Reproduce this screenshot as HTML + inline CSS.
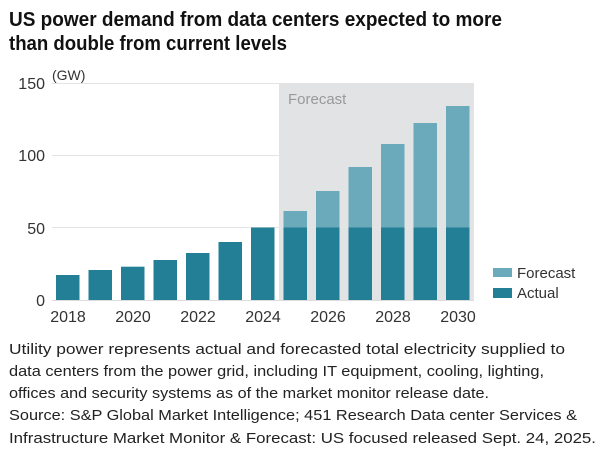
<!DOCTYPE html>
<html><head><meta charset="utf-8"><style>
html,body{margin:0;padding:0;background:#fff;}
svg{display:block;font-family:"Liberation Sans",sans-serif;}
</style></head><body>
<svg width="605" height="454" viewBox="0 0 605 454" xmlns="http://www.w3.org/2000/svg">
<text x="9" y="26" font-size="20" font-weight="bold" fill="#111" textLength="493" lengthAdjust="spacingAndGlyphs">US power demand from data centers expected to more</text>
<text x="9" y="50" font-size="20" font-weight="bold" fill="#111" textLength="278" lengthAdjust="spacingAndGlyphs">than double from current levels</text>

<rect x="279" y="83" width="195" height="217" fill="#e2e3e5"/>
<g stroke="#e4e4e4" stroke-width="1">
<line x1="52" y1="83.5" x2="474" y2="83.5"/>
<line x1="52" y1="155.5" x2="474" y2="155.5"/>
<line x1="52" y1="227.5" x2="474" y2="227.5"/>
</g>
<line x1="52" y1="300.5" x2="474" y2="300.5" stroke="#ddd"/>
<text x="288" y="104" font-size="15" fill="#999">Forecast</text>

<text x="52" y="80" font-size="14" fill="#333">(GW)</text>
<g font-size="16" fill="#333" text-anchor="end">
<text x="45" y="89">150</text>
<text x="45" y="161">100</text>
<text x="45" y="234">50</text>
<text x="45" y="306">0</text>
</g>

<g fill="#237f96">
<rect x="56" y="275" width="23.5" height="25"/>
<rect x="88.5" y="270" width="23.5" height="30"/>
<rect x="121" y="266.7" width="23.5" height="33.3"/>
<rect x="153.5" y="260" width="23.5" height="40"/>
<rect x="186" y="253" width="23.5" height="47"/>
<rect x="218.5" y="242" width="23.5" height="58"/>
<rect x="251" y="227.5" width="23.5" height="72.5"/>
<rect x="283.5" y="227.5" width="23.5" height="72.5"/>
<rect x="316" y="227.5" width="23.5" height="72.5"/>
<rect x="348.5" y="227.5" width="23.5" height="72.5"/>
<rect x="381" y="227.5" width="23.5" height="72.5"/>
<rect x="413.5" y="227.5" width="23.5" height="72.5"/>
<rect x="446" y="227.5" width="23.5" height="72.5"/>
</g>
<g fill="#6aaabb">
<rect x="283.5" y="211" width="23.5" height="16.5"/>
<rect x="316" y="191" width="23.5" height="36.5"/>
<rect x="348.5" y="167" width="23.5" height="60.5"/>
<rect x="381" y="144" width="23.5" height="83.5"/>
<rect x="413.5" y="123" width="23.5" height="104.5"/>
<rect x="446" y="106" width="23.5" height="121.5"/>
</g>

<g font-size="16" fill="#333" text-anchor="middle">
<text x="68" y="322">2018</text>
<text x="133" y="322">2020</text>
<text x="198" y="322">2022</text>
<text x="263" y="322">2024</text>
<text x="328" y="322">2026</text>
<text x="393" y="322">2028</text>
<text x="458" y="322">2030</text>
</g>

<rect x="493" y="268" width="19" height="9" fill="#6aaabb"/>
<rect x="493" y="288" width="19" height="10" fill="#237f96"/>
<text x="517" y="278" font-size="15" fill="#333">Forecast</text>
<text x="517" y="298" font-size="15" fill="#333">Actual</text>

<g font-size="15" fill="#222">
<text x="9" y="354" textLength="556" lengthAdjust="spacingAndGlyphs">Utility power represents actual and forecasted total electricity supplied to</text>
<text x="9" y="376" textLength="535" lengthAdjust="spacingAndGlyphs">data centers from the power grid, including IT equipment, cooling, lighting,</text>
<text x="9" y="398" textLength="480" lengthAdjust="spacingAndGlyphs">offices and security systems as of the market monitor release date.</text>
<text x="9" y="420" textLength="568" lengthAdjust="spacingAndGlyphs">Source: S&amp;P Global Market Intelligence; 451 Research Data center Services &amp;</text>
<text x="9" y="443" textLength="587" lengthAdjust="spacingAndGlyphs">Infrastructure Market Monitor &amp; Forecast: US focused released Sept. 24, 2025.</text>
</g>
</svg>
</body></html>
